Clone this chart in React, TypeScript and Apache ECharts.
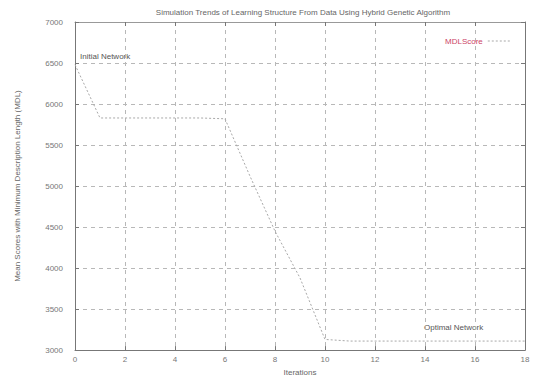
import React, { useEffect, useRef } from "react";
import * as echarts from "echarts";

const iterations = [0, 1, 2, 3, 4, 5, 6, 7, 8, 9, 10, 11, 12, 13, 14, 15, 16, 17, 18];
const mdlScore = [6480, 5830, 5830, 5830, 5830, 5830, 5820, 5120, 4450, 3880, 3130, 3110, 3110, 3110, 3110, 3110, 3110, 3110, 3110];
const xTicks = [0, 2, 4, 6, 8, 10, 12, 14, 16, 18];
const yTicks = [3000, 3500, 4000, 4500, 5000, 5500, 6000, 6500, 7000];

const TITLE = "Simulation Trends of Learning Structure From Data Using Hybrid Genetic Algorithm";
const X_NAME = "Iterations";
const Y_NAME = "Mean Scores with Minimum Description Length (MDL)";
const SERIES_NAME = "MDLScore";

export default function App() {
  const ref = useRef<HTMLDivElement>(null);
  useEffect(() => {
    if (!ref.current) return;
    const chart = echarts.init(ref.current, undefined, { renderer: "svg" });
    const font = "Liberation Sans";
    const gridLine = { show: true, lineStyle: { color: "#b8b8b8", type: [4, 4] as any, width: 1 } };
    const axisBase = {
      axisLine: { show: true, onZero: false, lineStyle: { color: "#777", width: 1 } },
      axisTick: { show: true, inside: true, length: 4, lineStyle: { color: "#777" } },
    };
    chart.setOption({
      animation: false,
      backgroundColor: "#fff",
      textStyle: { fontFamily: font },
      title: {
        text: TITLE,
        left: 298,
        textAlign: "center",
        top: 3,
        textStyle: { fontSize: 8, fontWeight: "normal", color: "#666", fontFamily: font },
      },
      legend: {
        show: true,
        left: 440,
        top: 32,
        orient: "horizontal",
        itemWidth: 22,
        itemHeight: 8,
        itemGap: 4,
        align: "right",
        itemStyle: { opacity: 0, borderWidth: 0 },
        lineStyle: { color: "#a8a8a8", width: 1, type: [2, 2] as any },
        textStyle: { color: "#cc4466", fontSize: 8, fontFamily: font },
        data: [SERIES_NAME],
      },
      grid: { left: 75, right: 14, top: 22, bottom: 29, containLabel: false, show: false },
      xAxis: [
        {
          type: "value",
          min: 0,
          max: 18,
          interval: 2,
          name: X_NAME,
          nameLocation: "middle",
          nameGap: 10,
          nameTextStyle: { fontSize: 8, color: "#666" },
          ...axisBase,
          axisLabel: { color: "#777", fontSize: 8, margin: 5, formatter: (v: number) => String(v) },
          splitLine: gridLine,
        },
        {
          type: "value",
          position: "top",
          min: 0,
          max: 18,
          interval: 2,
          ...axisBase,
          axisLine: { show: true, onZero: false, lineStyle: { color: "#999", width: 1 } },
          axisLabel: { show: false },
          splitLine: { show: false },
        },
      ],
      yAxis: [
        {
          type: "value",
          min: 3000,
          max: 7000,
          interval: 500,
          name: Y_NAME,
          nameLocation: "middle",
          nameGap: 54,
          nameRotate: 90,
          nameTextStyle: { fontSize: 8, color: "#666" },
          ...axisBase,
          axisLabel: { color: "#777", fontSize: 8, margin: 12, formatter: (v: number) => String(v) },
          splitLine: gridLine,
        },
        {
          type: "value",
          position: "right",
          min: 3000,
          max: 7000,
          interval: 500,
          ...axisBase,
          axisLabel: { show: false },
          splitLine: { show: false },
        },
      ],
      series: [
        {
          name: SERIES_NAME,
          type: "line",
          data: iterations.map((x, i) => [x, mdlScore[i]]),
          showSymbol: false,
          symbol: "none",
          color: "#a8a8a8",
          lineStyle: { color: "#a8a8a8", width: 1, type: [2, 2] as any },
          itemStyle: { color: "#a8a8a8" },
        },
      ],
      graphic: [
        {
          type: "text",
          left: 80,
          top: 52,
          style: { text: "Initial Network", fontSize: 8, fill: "#555", fontFamily: font },
        },
        {
          type: "text",
          left: 424,
          top: 323,
          style: { text: "Optimal Network", fontSize: 8, fill: "#555", fontFamily: font },
        },
      ],
    });
    return () => chart.dispose();
  }, []);
  return <div ref={ref} style={{ width: 539, height: 381, position: "absolute", left: 0, top: 0 }} />;
}
